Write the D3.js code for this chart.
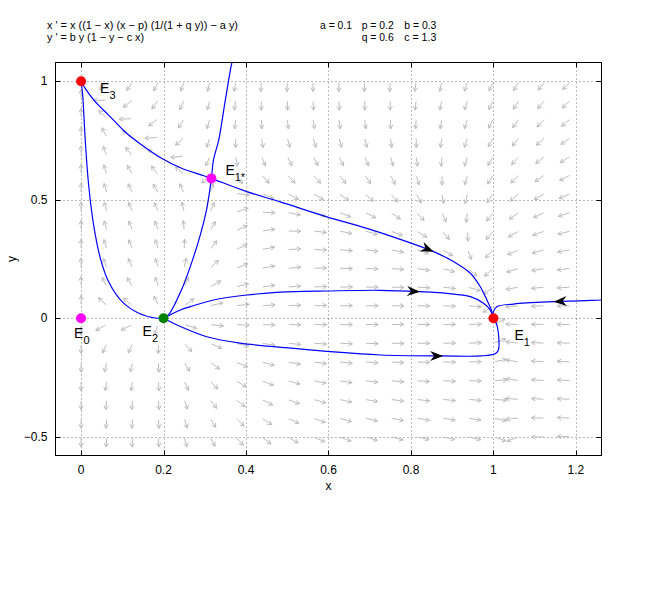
<!DOCTYPE html>
<html>
<head>
<meta charset="utf-8">
<script src="https://cdn.jsdelivr.net/npm/d3@7"></script>
<style>
body{margin:0;background:#fff}
text{font-family:"Liberation Sans",Arial,sans-serif;fill:#000}
</style>
</head>
<body>
<svg id="chart" width="663" height="593"></svg>
<script>
// system shown in the title
var equations = ["x ' = x ((1 \u2212 x) (x \u2212 p) (1/(1 + q y)) \u2212 a y)", "y ' = b y (1 \u2212 y \u2212 c x)"];
var paramNames = ["a", "p", "b", "q", "c"];
var paramValues = [0.1, 0.2, 0.3, 0.6, 1.3];

var xTicks = [0, 0.2, 0.4, 0.6, 0.8, 1, 1.2];
var yTicks = [-0.5, 0, 0.5, 1];
var xDomain = [-0.062, 1.262];
var yDomain = [-0.579, 1.079];

// equilibrium points
var eqNames = ["3", "1*", "0", "2", "1"];
var eqX = [0, 0.316, 0, 0.2, 1];
var eqY = [1, 0.59, 0, 0, 0];
var eqColors = ["#ff0000", "#ff00ff", "#ff00ff", "#008000", "#ff0000"];

// trajectories
var trajTopToE2 = [[0.37,1.10],[0.366,1.08],[0.350,0.922],[0.334,0.754],[0.321,0.667],[0.316,0.59],[0.305,0.464],[0.289,0.351],[0.269,0.239],[0.245,0.126],[0.212,0.014],[0.2,0]];
var trajE3ToE1 = [[0,1],[0.0104,0.969],[0.0347,0.913],[0.0669,0.857],[0.107,0.786],[0.148,0.730],[0.196,0.674],[0.245,0.632],[0.293,0.604],[0.316,0.59],[0.402,0.534],[0.483,0.491],[0.596,0.428],[0.693,0.379],[0.774,0.333],[0.855,0.281],[0.903,0.239],[0.944,0.190],[0.968,0.133],[0.984,0.077],[0.995,0.035],[1,0]];
var trajE2ToE3 = [[0.2,0],[0.180,0.001],[0.140,0.021],[0.0994,0.070],[0.0669,0.154],[0.0468,0.253],[0.0305,0.393],[0.0184,0.562],[0.0104,0.744],[0.0039,0.941],[0,1]];
var trajE2Upper = [[0.2,0],[0.241,0.035],[0.265,0.049],[0.321,0.077],[0.402,0.098],[0.483,0.110],[0.596,0.115],[0.726,0.118],[0.822,0.112],[0.887,0.105],[0.944,0.091],[0.976,0.063],[0.992,0.035],[1,0]];
var trajE2Lower = [[0.2,0],[0.241,-0.035],[0.305,-0.078],[0.386,-0.105],[0.508,-0.126],[0.604,-0.141],[0.726,-0.155],[0.878,-0.159],[0.968,-0.159],[1.004,-0.150],[1.012,-0.134],[1.012,-0.063],[1.007,-0.021],[1,0]];
var trajRight = [[1.30,0.079],[1.263,0.077],[1.146,0.070],[1.049,0.060],[1.008,0.049],[1.0,0.028],[1,0]];
var trajectories = [trajTopToE2, trajE3ToE1, trajE2ToE3, trajE2Upper, trajE2Lower, trajRight];

// arrowheads on trajectories
var flowX = [0.855, 0.822, 0.878, 1.146];
var flowY = [0.281, 0.112, -0.159, 0.070];

var pr = {};
paramNames.forEach(function(n, i){ pr[n] = paramValues[i]; });
function field(x, y){
	var dx = x * ((1 - x) * (x - pr.p) / (1 + pr.q * y) - pr.a * y);
	var dy = pr.b * y * (1 - y - pr.c * x);
	return [dx, dy];
}

var svg = d3.select("#chart");
var pLeft = 55.5, pRight = 601.5, pTop = 62.5, pBottom = 455.5;

var xScale = d3.scaleLinear().domain(xDomain).range([pLeft, pRight]);
var yScale = d3.scaleLinear().domain(yDomain).range([pBottom, pTop]);

svg.append("defs").append("clipPath").attr("id", "clip")
	.append("rect").attr("x", pLeft).attr("y", pTop).attr("width", pRight - pLeft).attr("height", pBottom - pTop);

// grid
var grid = svg.append("g").attr("stroke", "#000").attr("stroke-opacity", 0.55).attr("stroke-dasharray", "1,3");
grid.selectAll("line.gx").data(xTicks).enter().append("line")
	.attr("x1", function(d){ return Math.round(xScale(d)) + 0.5; })
	.attr("x2", function(d){ return Math.round(xScale(d)) + 0.5; })
	.attr("y1", pTop).attr("y2", pBottom);
grid.selectAll("line.gy").data(yTicks).enter().append("line")
	.attr("y1", function(d){ return Math.round(yScale(d)) + 0.5; })
	.attr("y2", function(d){ return Math.round(yScale(d)) + 0.5; })
	.attr("x1", pLeft).attr("x2", pRight);

// direction field
var colStep = 0.0625, rowStep = 1.5 / 19;
var cells = [];
d3.range(20).forEach(function(i){
	d3.range(20).forEach(function(j){
		cells.push([i * colStep, 1 - j * rowStep]);
	});
});
var colPx = xScale(colStep) - xScale(0), rowPx = yScale(0) - yScale(rowStep);
var fieldPath = "";
cells.forEach(function(c){
	var f = field(c[0], c[1]);
	var gx = f[0] / colStep, gy = f[1] / rowStep;
	var n = Math.hypot(gx, gy);
	if (n < 1e-12) return;
	var vx = gx / n * 0.47 * colPx, vy = -gy / n * 0.47 * rowPx;
	var L = Math.hypot(vx, vy), ux = vx / L, uy = vy / L;
	var x0 = xScale(c[0]) + ux * 1.5, y0 = yScale(c[1]) + uy * 1.5;
	var x1 = x0 + vx, y1 = y0 + vy;
	var h = 4.5, a = 0.5;
	var ca = Math.cos(a), sa = Math.sin(a);
	var hx1 = x1 - h * (ux * ca - uy * sa), hy1 = y1 - h * (uy * ca + ux * sa);
	var hx2 = x1 - h * (ux * ca + uy * sa), hy2 = y1 - h * (uy * ca - ux * sa);
	fieldPath += "M" + x0.toFixed(2) + "," + y0.toFixed(2) + "L" + x1.toFixed(2) + "," + y1.toFixed(2)
		+ "M" + hx1.toFixed(2) + "," + hy1.toFixed(2) + "L" + x1.toFixed(2) + "," + y1.toFixed(2) + "L" + hx2.toFixed(2) + "," + hy2.toFixed(2);
});
svg.append("path").attr("d", fieldPath).attr("fill", "none")
	.attr("stroke", "#bdbdbd").attr("stroke-width", 1);

// trajectories
var line = d3.line()
	.x(function(d){ return xScale(d[0]); })
	.y(function(d){ return yScale(d[1]); })
	.curve(d3.curveCatmullRom.alpha(0.5));

svg.append("g").attr("clip-path", "url(#clip)")
	.selectAll("path").data(trajectories).enter().append("path")
	.attr("d", line)
	.attr("fill", "none").attr("stroke", "#0000ff").attr("stroke-width", 1.2);

svg.append("g").selectAll("path").data(flowX).enter().append("path")
	.attr("d", "M0,0L-13,-5L-9,0L-13,5Z")
	.attr("fill", "#000")
	.attr("transform", function(d, i){
		var f = field(d, flowY[i]);
		var ang = Math.atan2(-f[1] * (yScale(0) - yScale(1)), f[0] * (xScale(1) - xScale(0))) * 180 / Math.PI;
		return "translate(" + xScale(d) + "," + yScale(flowY[i]) + ") rotate(" + ang + ")";
	});

// equilibria
svg.append("g").selectAll("circle").data(eqX).enter().append("circle")
	.attr("cx", function(d){ return xScale(d); })
	.attr("cy", function(d, i){ return yScale(eqY[i]); })
	.attr("r", 5)
	.attr("fill", function(d, i){ return eqColors[i]; });

var labelDx = [19, 14, -7, -21, 21];
var labelDy = [12, -3, 20, 18, 22];
var labs = svg.append("g").selectAll("text").data(eqNames).enter().append("text")
	.attr("x", function(d, i){ return xScale(eqX[i]) + labelDx[i]; })
	.attr("y", function(d, i){ return yScale(eqY[i]) + labelDy[i]; })
	.attr("font-size", 14);
labs.append("tspan").text("E");
labs.append("tspan").attr("dy", 6).attr("font-size", 11).text(function(d){ return d; });

// frame and ticks
svg.append("rect").attr("x", pLeft).attr("y", pTop).attr("width", pRight - pLeft).attr("height", pBottom - pTop)
	.attr("fill", "none").attr("stroke", "#000").attr("stroke-width", 1);

var tickLen = 5;
var ticks = svg.append("g").attr("stroke", "#000");
xTicks.forEach(function(d){
	var x = Math.round(xScale(d)) + 0.5;
	ticks.append("line").attr("x1", x).attr("x2", x).attr("y1", pBottom).attr("y2", pBottom - tickLen);
	ticks.append("line").attr("x1", x).attr("x2", x).attr("y1", pTop).attr("y2", pTop + tickLen);
});
yTicks.forEach(function(d){
	var y = Math.round(yScale(d)) + 0.5;
	ticks.append("line").attr("y1", y).attr("y2", y).attr("x1", pLeft).attr("x2", pLeft + tickLen);
	ticks.append("line").attr("y1", y).attr("y2", y).attr("x1", pRight).attr("x2", pRight - tickLen);
});

var fmt = function(d){ return d < 0 ? "\u2212" + Math.abs(d) : String(d); };
svg.append("g").selectAll("text").data(xTicks).enter().append("text")
	.attr("x", function(d){ return xScale(d); })
	.attr("y", pBottom + 18)
	.attr("text-anchor", "middle").attr("font-size", 12)
	.text(fmt);
svg.append("g").selectAll("text").data(yTicks).enter().append("text")
	.attr("x", pLeft - 8)
	.attr("y", function(d){ return yScale(d) + 4; })
	.attr("text-anchor", "end").attr("font-size", 12)
	.text(fmt);

svg.append("text").attr("x", (pLeft + pRight) / 2).attr("y", 490)
	.attr("text-anchor", "middle").attr("font-size", 12).text("x");
svg.append("text").attr("transform", "translate(16," + (pTop + pBottom) / 2 + ") rotate(-90)")
	.attr("text-anchor", "middle").attr("font-size", 12).text("y");

// title: equations and parameters
svg.append("g").selectAll("text").data(equations).enter().append("text")
	.attr("x", 47).attr("y", function(d, i){ return 28.6 + i * 12.8; })
	.attr("font-size", 11)
	.attr("textLength", function(d, i){ return i == 0 ? 191 : 97; })
	.attr("lengthAdjust", "spacingAndGlyphs")
	.text(function(d){ return d; });

var paramX = [320, 361.7, 404.3, 361.7, 404.3];
var paramRow = [0, 0, 0, 1, 1];
svg.append("g").selectAll("text").data(paramNames).enter().append("text")
	.attr("x", function(d, i){ return paramX[i]; })
	.attr("y", function(d, i){ return 28.6 + paramRow[i] * 12.8; })
	.attr("font-size", 11)
	.attr("textLength", 32).attr("lengthAdjust", "spacingAndGlyphs")
	.text(function(d, i){ return d + " = " + paramValues[i]; });
</script>
</body>
</html>
